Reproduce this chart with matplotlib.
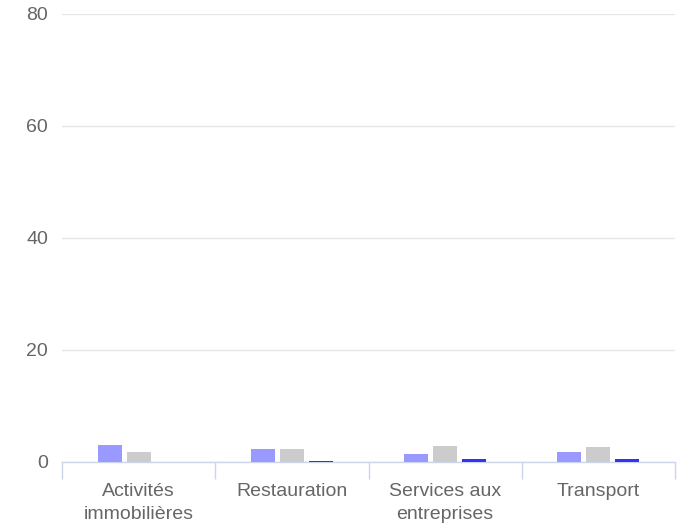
import matplotlib
matplotlib.use("Agg")
import matplotlib.pyplot as plt
import numpy as np

categories = ["Activités\nimmobilières", "Restauration", "Services aux\nentreprises", "Transport"]
series_a = [3.0, 2.3, 1.5, 1.8]
series_b = [1.8, 2.3, 2.8, 2.6]
series_c = [0.0, 0.2, 0.5, 0.5]
yticks = [0, 20, 40, 60, 80]

colors = ["#9999ff", "#cccccc", "#3333f0"]

plt.rcParams['font.family'] = ['Liberation Sans', 'DejaVu Sans']
fig = plt.figure(figsize=(6.87, 5.31), dpi=100)
ax = fig.add_axes([62/687, 69/531, (675-62)/687, (462-14)/531])

x = np.arange(len(categories))
w = 24/153
step = 29/153
for i, (vals, c) in enumerate(zip([series_a, series_b, series_c], colors)):
    ax.bar(x + (i - 1)*step, vals, width=w, color=c, zorder=3)

ax.set_xlim(-0.5, len(categories) - 0.5)
ax.set_ylim(0, 80)
ax.set_yticks(yticks)
ax.set_yticklabels([str(t) for t in yticks])
ax.grid(axis='y', color='#e6e6e6', linewidth=1, zorder=0)
ax.set_axisbelow(True)

ax.set_xticks(x)
ax.set_xticklabels(categories, linespacing=1.45)
ax.set_xticks(np.arange(-0.5, len(categories)), minor=True)
ax.tick_params(axis='x', which='major', length=0, pad=15, labelsize=14, colors='#666666')
ax.tick_params(axis='x', which='minor', length=12, color='#ccd6eb', width=1)
ax.tick_params(axis='y', length=0, pad=10, labelsize=14, labelcolor='#666666')

for s in ['top', 'right', 'left']:
    ax.spines[s].set_visible(False)
ax.spines['bottom'].set_color('#ccd6eb')
ax.spines['bottom'].set_linewidth(1)

fig.savefig("out.png", dpi=100)
